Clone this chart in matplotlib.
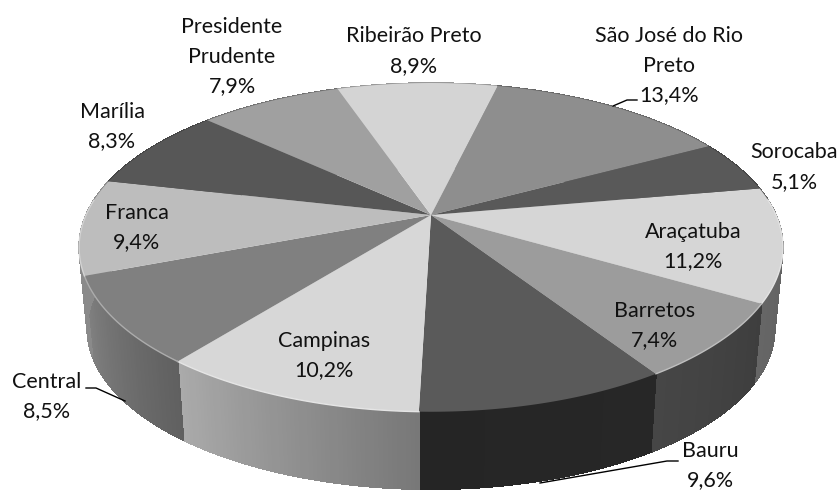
import numpy as np
import matplotlib
matplotlib.use("Agg")
import matplotlib.pyplot as plt
from matplotlib.collections import PolyCollection
from matplotlib.colors import to_rgb

# ---- data (clockwise, first slice starts at 80 deg) ----
categories = ["Araçatuba", "Barretos", "Bauru", "Campinas", "Central", "Franca", "Marília",
              "Presidente\nPrudente", "Ribeirão Preto", "São José do Rio\nPreto", "Sorocaba"]
values = [11.2, 7.4, 9.6, 10.2, 8.5, 9.4, 8.3, 7.9, 8.9, 13.4, 5.1]

top_colors = ["#d6d6d6", "#9c9c9c", "#5a5a5a", "#d7d7d7", "#808080", "#bdbdbd", "#575757",
              "#a0a0a0", "#d4d4d4", "#8e8e8e", "#595959"]
side_start = ["#5e5e5e", "#3e3e3e", "#272727", "#787878", "#606060", "#8a8a8a", "#444444",
              "#707070", "#999999", "#666666", "#444444"]
side_end = ["#666666", "#464646", "#252525", "#aaaaaa", "#808080", "#8a8a8a", "#444444",
            "#707070", "#999999", "#666666", "#444444"]

# label centre in pixels
label_x = [693, 655, 710, 324, 47, 137, 112, 232, 414, 669, 794]
label_y = [246.5, 325.5, 465.5, 355.5, 396.5, 227.5, 126.5, 56.5, 51, 65.5, 167]

# ---- geometry (pixels) ----
START = 80.0
CX, CY = 431, 215
RX, RY, K = 345, 158, 0.197
SHRINK, DROP = 0.977, 82


def rim(theta):
    # theta in deg clockwise from the back of the pie, with simple perspective
    t = np.radians(theta)
    X, Y = np.sin(t), np.cos(t)
    w = 1 + K * Y
    return CX + RX * X / w, CY - RY * Y / w


def low(px, py):
    return CX + (px - CX) * SHRINK, CY + DROP + (py - CY) * SHRINK


def blend(a, b, f):
    a, b = np.array(to_rgb(a)), np.array(to_rgb(b))
    return tuple(a + (b - a) * f)


fig = plt.figure(figsize=(8.4, 4.91), dpi=100)
ax = fig.add_axes([0, 0, 1, 1])
ax.set_xlim(0, 840); ax.set_ylim(491, 0); ax.axis("off")

edges = START + np.concatenate([[0], np.cumsum(values)]) / np.sum(values) * 360

# side wall, back to front
quads, cols = [], []
for i in range(len(values)):
    th = np.linspace(edges[i], edges[i + 1], 60)
    for j in range(len(th) - 1):
        x0, y0 = rim(th[j]); x1, y1 = rim(th[j + 1])
        lx0, ly0 = low(x0, y0); lx1, ly1 = low(x1, y1)
        quads.append([(x0, y0), (x1, y1), (lx1, ly1), (lx0, ly0)])
        cols.append(blend(side_start[i], side_end[i], j / (len(th) - 2)))
ax.add_collection(PolyCollection(quads, facecolors=cols, edgecolors=cols, linewidths=0.5,
                                 antialiaseds=False, zorder=1))

# top faces and a thin bevel on the rim
for i in range(len(values)):
    th = np.linspace(edges[i], edges[i + 1], 120)
    x, y = rim(th)
    ax.fill(np.r_[CX, x], np.r_[CY, y], color=top_colors[i], lw=0, zorder=2)
    front = np.cos(np.radians(th)) < 0.1
    if i != 2 and front.any():
        ax.plot(x[front], y[front], color=blend(top_colors[i], "#ffffff", 0.35), lw=1, zorder=3)

# leader lines
ax.plot([86, 96, 125], [388, 388, 401], color="k", lw=1, zorder=4)
ax.plot([678, 667, 540], [461, 461, 483], color="k", lw=1, zorder=4)
ax.plot([637, 627, 613], [100, 100, 106], color="k", lw=1, zorder=4)

for name, v, lx, ly in zip(categories, values, label_x, label_y):
    txt = f"{name}\n{v:.1f}%".replace(".", ",")
    ax.text(lx, ly, txt, ha="center", va="center", family="Lato", fontsize=15.5,
            linespacing=1.58, color="#111111", zorder=5)

fig.savefig("out.png", dpi=100)
